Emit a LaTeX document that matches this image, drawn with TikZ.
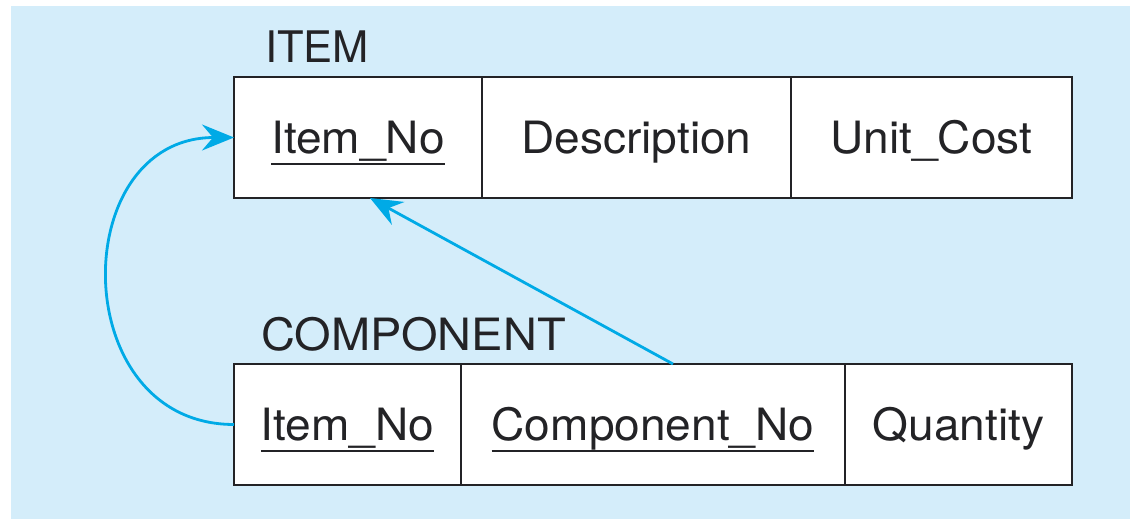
\documentclass[tikz,border=0pt]{standalone}
\usepackage{fontspec}
\setmainfont{TeX Gyre Heros}
\newfontfamily\cellfont[FakeStretch=1.035]{TeX Gyre Heros}
\newfontfamily\compfont[FakeStretch=1.055]{TeX Gyre Heros}
\usetikzlibrary{arrows.meta}
\definecolor{bgblue}{RGB}{212,237,250}
\definecolor{arrcyan}{RGB}{0,170,230}
\definecolor{ink}{RGB}{35,35,38}
\tikzset{
  cell/.style={draw=ink, line width=2.4pt, fill=white, inner sep=0pt, outer sep=0pt, minimum height=121pt},
  lbl/.style={inner sep=0pt, outer sep=0pt, text=ink, font=\cellfont\fontsize{44.5}{50}\selectfont, text height=31.5pt, text depth=0pt},
  title/.style={inner sep=0pt, outer sep=0pt, text=ink, anchor=base west},
  uline/.style={draw=ink, line width=2pt},
  arr/.style={draw=arrcyan, line width=2.8pt, -{Stealth[length=32pt, width=26pt, inset=11pt]}}
}
\begin{document}
\begin{tikzpicture}[x=1pt,y=-1pt]
\useasboundingbox (0,0) rectangle (1130,519);
\fill[bgblue] (11,6) rectangle (1130,519);
% ITEM table
\node[title, font=\fontsize{43.5}{50}\selectfont] (titem) at (265,63) {ITEM};
\node[cell, minimum width=248pt] (i1) at (358,137.5) {};
\node[cell, minimum width=309pt] (i2) at (636.5,137.5) {};
\node[cell, minimum width=281pt] (i3) at (931.5,137.5) {};
\node[lbl] (ti1) at (i1.center) {Item\_No};
\node[lbl] (ti2) at (i2.center) {Description};
\node[lbl] (ti3) at (i3.center) {Unit\_Cost};
\draw[uline] ([yshift=-11pt]ti1.base west) -- ([yshift=-11pt]ti1.base east);
% COMPONENT table
\node[title, font=\compfont\fontsize{44.5}{50}\selectfont] (tcomp) at (261,350) {COMPONENT};
\node[cell, minimum width=227pt] (c1) at (347.5,424.5) {};
\node[cell, minimum width=384pt] (c2) at (653,424.5) {};
\node[cell, minimum width=227pt] (c3) at (958.5,424.5) {};
\node[lbl] (tc1) at (c1.center) {Item\_No};
\node[lbl] (tc2) at (c2.center) {Component\_No};
\node[lbl] (tc3) at (c3.center) {Quantity};
\draw[uline] ([yshift=-11pt]tc1.base west) -- ([yshift=-11pt]tc1.base east);
\draw[uline] ([yshift=-11pt]tc2.base west) -- ([yshift=-11pt]tc2.base east);
% arrows
\draw[arr] (c1.west) .. controls +(-168,0) and +(-168,0) .. (i1.west);
\draw[arr] ([xshift=20pt]c2.north) -- ([xshift=12pt]i1.south);
\end{tikzpicture}
\end{document}
